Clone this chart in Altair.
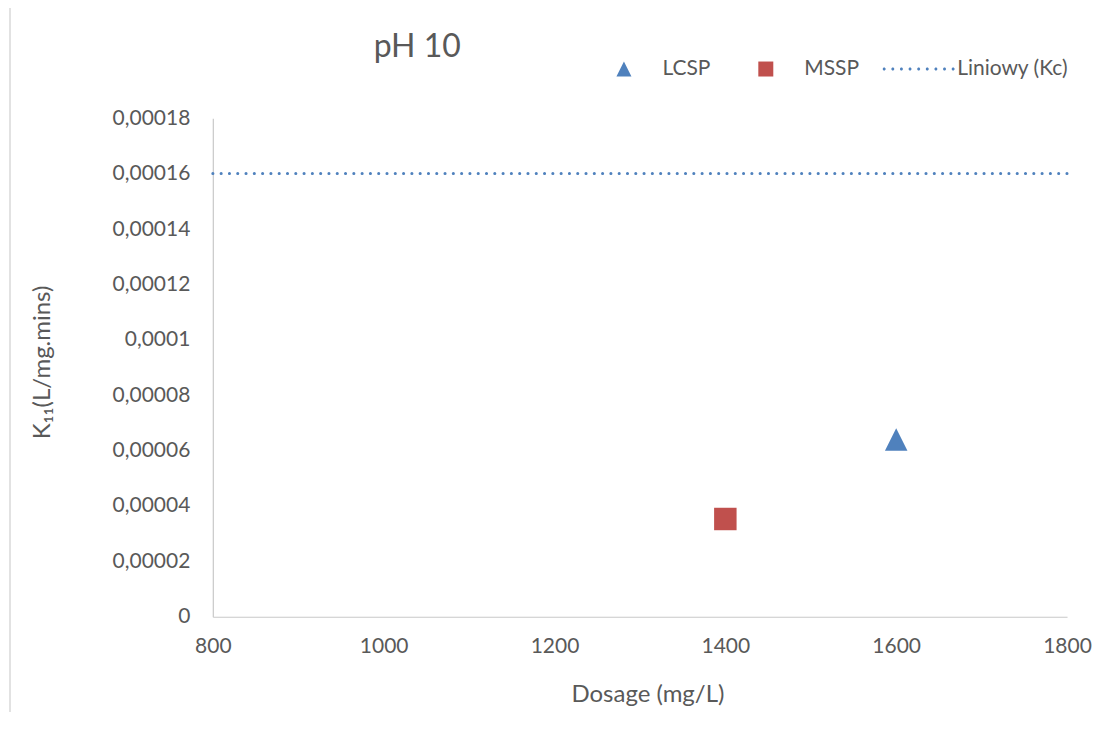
import altair as alt
import pandas as pd

# ---- data ----
series = ["LCSP", "MSSP"]
dosage = [1600, 1400]
k11 = [0.000064, 0.0000353]

kc_value = [0.00016]
kc_start = [800]
kc_end = [1800]

legend_names = ["LCSP", "MSSP", "Liniowy (Kc)"]
x_ticks = [800, 1000, 1200, 1400, 1600, 1800]
y_ticks = [0, 0.00002, 0.00004, 0.00006, 0.00008, 0.0001,
           0.00012, 0.00014, 0.00016, 0.00018]

# ---- styling ----
BLUE = "#4F81BD"
RED = "#C0504D"
GREY_TXT = "#595959"
FONT = "Lato"

tri_path = "M0,-1L1,1L-1,1Z"
dot_centers = [-4.6, -3.45, -2.3, -1.15, 0.0, 1.15, 2.3, 3.45, 4.6]
dots_path = "".join(
    f"M{c - 0.2:.2f},0a0.2,0.2 0 1,0 0.4,0a0.2,0.2 0 1,0 -0.4,0" for c in dot_centers
)

points_df = pd.DataFrame({"series": series, "dosage": dosage, "k11": k11})
kc_df = pd.DataFrame({"x1": kc_start, "x2": kc_end, "y": kc_value})

legend = alt.Legend(
    title=None,
    orient="none",
    direction="horizontal",
    legendX=401,
    legendY=-60,
    symbolSize=225,
    symbolStrokeWidth=0,
    symbolOpacity=1,
    labelFont=FONT,
    labelFontSize=21,
    labelColor=GREY_TXT,
    labelOffset=28,
    columnPadding=23,
    padding=0,
    labelExpr="datum.label == 'LCSP' ? 'LCSP    \u200b' : datum.label",
)

x_enc = alt.X(
    "dosage:Q",
    scale=alt.Scale(domain=[800, 1800], nice=False, zero=False),
    axis=alt.Axis(
        values=x_ticks,
        format="d",
        title="Dosage (mg/L)",
        labelPadding=19,
        labelFlush=False,
        labelOverlap=False,
        titleX=435,
        titleY=85,
        titleBaseline="alphabetic",
        titleAlign="center",
    ),
)
y_enc = alt.Y(
    "k11:Q",
    scale=alt.Scale(domain=[0, 0.00018], nice=False),
    axis=alt.Axis(
        values=y_ticks,
        format="~g",
        labelExpr="replace(datum.label, '.', ',')",
        title="K₁₁(L/mg.mins)",
        labelPadding=23,
        labelOverlap=False,
        titleX=-163,
        titleY=244,
        titleAngle=270,
        titleBaseline="alphabetic",
        titleAlign="center",
    ),
)

points = alt.Chart(points_df).mark_point(filled=True, size=506, opacity=1).encode(
    x=x_enc,
    y=y_enc,
    color=alt.Color("series:N", scale=alt.Scale(domain=legend_names, range=[BLUE, RED, BLUE]), legend=legend),
    shape=alt.Shape("series:N", scale=alt.Scale(domain=legend_names, range=[tri_path, "square", dots_path]), legend=legend),
)

kc_line = alt.Chart(kc_df).mark_rule(
    color=BLUE, strokeWidth=3, strokeDash=[0.1, 8.2], strokeCap="round"
).encode(
    x="x1:Q",
    x2="x2:Q",
    y="y:Q",
)

border = alt.Chart(pd.DataFrame({"d": [0]})).mark_rule(color="#D9D9D9", strokeWidth=1.5).encode(
    x=alt.value(-203), y=alt.value(-118), y2=alt.value(614)
)

chart = alt.layer(border, kc_line, points).properties(
    width=855,
    height=499,
    title=alt.TitleParams(
        "pH 10",
        anchor="start",
        frame="group",
        dx=161,
        offset=0,
        dy=89,
        baseline="alphabetic",
        fontSize=32,
        font=FONT,
        fontWeight="normal",
        color=GREY_TXT,
    ),
    autosize=alt.AutoSizeParams(type="none"),
    padding={"left": 205, "top": 110, "right": 30, "bottom": 95},
).configure_view(stroke=None).configure_axis(
    labelFont=FONT,
    labelFontSize=21,
    labelColor=GREY_TXT,
    titleFont=FONT,
    titleFontSize=24,
    titleColor=GREY_TXT,
    titleFontWeight="normal",
    domainColor="#C8C8C8",
    domainWidth=1.2,
    ticks=False,
    tickSize=0,
    grid=False,
)

chart.save("out.html", embed_options={"renderer": "svg", "actions": False})
